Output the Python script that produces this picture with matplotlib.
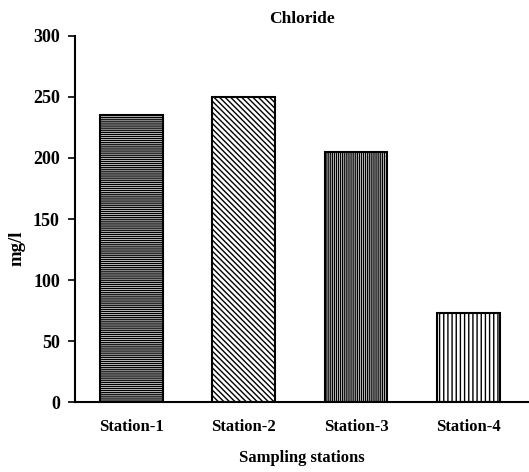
import numpy as np
import matplotlib.pyplot as plt

# Chloride per statie de prelevare
stations = ['Station-1', 'Station-2', 'Station-3', 'Station-4']
chloride = [235, 250, 205, 73]
hatches = ['--------', '\\\\\\\\\\\\', '||||||||', '||||']

plt.rcParams['font.family'] = ['Liberation Serif', 'DejaVu Serif']
plt.rcParams['font.weight'] = 'bold'
plt.rcParams['hatch.linewidth'] = 1.0

fig = plt.figure(figsize=(5.29, 4.72), dpi=100)
ax = fig.add_axes([0.142, 0.148, 0.858, 0.776])

x = np.arange(len(stations))
bars = ax.bar(x, chloride, width=0.56, color='white', edgecolor='black', linewidth=1.5)
for b, h in zip(bars, hatches):
    b.set_hatch(h)

ax.set_xlim(-0.5, 3.54)
ax.set_ylim(0, 300)
ax.set_yticks(np.arange(0, 301, 50))
ax.set_xticks(x)
ax.set_xticklabels(stations, fontsize=12, fontweight='bold')
ax.tick_params(axis='x', length=0, pad=12)
ax.tick_params(axis='y', length=5, width=1.2, labelsize=13, direction='out', pad=6)
for lbl in ax.get_yticklabels():
    lbl.set_fontweight('bold')

ax.spines['top'].set_visible(False)
ax.spines['right'].set_visible(False)
ax.spines['left'].set_linewidth(1.5)
ax.spines['bottom'].set_linewidth(1.5)

ax.set_title('Chloride', fontsize=12.5, fontweight='bold', pad=9)
ax.set_xlabel('Sampling stations', fontsize=12, fontweight='bold')
ax.set_ylabel('mg/l', fontsize=13.5, fontweight='bold')
ax.xaxis.set_label_coords(0.5, -0.13)
ax.yaxis.set_label_coords(-0.11, 0.42)

fig.savefig('out.png', dpi=100)
